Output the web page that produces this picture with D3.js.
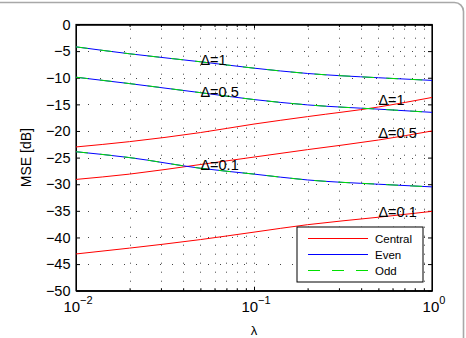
<!DOCTYPE html>
<html>
<head>
<meta charset="utf-8">
<script src="https://cdn.jsdelivr.net/npm/d3@7"></script>
<style>
  body { margin: 0; background: #fff; }
  text { font-family: "Liberation Sans", Arial, sans-serif; fill: #000; }
</style>
</head>
<body>
<div id="chart"></div>
<script>
// lambda sample points
const lambdas = [0.01, 0.02, 0.05, 0.1, 0.2, 0.5, 1];

// Central (red)
const centralD1  = [-23.0, -22.0, -20.3, -18.7, -17.3, -15.5, -13.7];
const centralD05 = [-29.1, -28.1, -26.3, -24.9, -23.5, -21.7, -20.0];
const centralD01 = [-43.1, -42.0, -40.4, -39.0, -37.6, -36.2, -35.1];

// Even (blue)
const evenD1  = [-4.2, -5.5, -7.0, -8.2, -9.2, -10.0, -10.5];
const evenD05 = [-9.9, -11.1, -12.8, -14.1, -15.1, -15.9, -16.5];
const evenD01 = [-23.9, -25.0, -27.0, -28.1, -29.2, -30.0, -30.5];

// Odd (green dashed)
const oddD1  = [-4.2, -5.5, -7.0, -8.2, -9.2, -10.0, -10.5];
const oddD05 = [-9.9, -11.1, -12.8, -14.1, -15.1, -15.9, -16.5];
const oddD01 = [-23.9, -25.0, -27.0, -28.1, -29.2, -30.0, -30.5];

// annotations
const noteText   = ["\u0394=1", "\u0394=0.5", "\u0394=0.1", "\u0394=1", "\u0394=0.5", "\u0394=0.1"];
const noteLambda = [0.05, 0.05, 0.05, 0.5, 0.5, 0.5];
const noteDb     = [-6.7, -12.7, -26.4, -14.2, -20.3, -35.1];

// ticks
const yTicks = [0, -5, -10, -15, -20, -25, -30, -35, -40, -45, -50];
const xMajor = [0.01, 0.1, 1];
const xExp = ["\u22122", "\u22121", "0"];
const xMinor = [0.02, 0.03, 0.04, 0.05, 0.06, 0.07, 0.08, 0.09,
                0.2, 0.3, 0.4, 0.5, 0.6, 0.7, 0.8, 0.9];

const legendNames = ["Central", "Even", "Odd"];

let width = 466;
let height = 338;
let pLeft = 76, pRight = 432, pTop = 24.5, pBottom = 290.7;

let svg = d3.select("#chart").append("svg")
    .attr("width", width)
    .attr("height", height);

// outer rounded frame (cropped on left/bottom)
svg.append("rect")
    .attr("x", -20).attr("y", 2.5)
    .attr("width", 463.5 + 20).attr("height", 360)
    .attr("rx", 9)
    .attr("fill", "none")
    .attr("stroke", "#a8a8a8")
    .attr("stroke-width", 1.6);

let x = d3.scaleLog().domain([0.01, 1]).range([pLeft, pRight]);
let y = d3.scaleLinear().domain([-50, 0]).range([pBottom, pTop]);

// grid
let grid = svg.append("g").attr("stroke", "#444").attr("stroke-width", 1);
grid.selectAll(".hg")
    .data(yTicks.filter(d => d !== 0 && d !== -50))
    .enter().append("line")
    .attr("x1", pLeft).attr("x2", pRight)
    .attr("y1", d => Math.round(y(d)) + 0.5).attr("y2", d => Math.round(y(d)) + 0.5)
    .attr("stroke-dasharray", "1,11");
grid.selectAll(".vg")
    .data(xMinor.concat([0.1]))
    .enter().append("line")
    .attr("y1", pBottom).attr("y2", pTop)
    .attr("x1", d => Math.round(x(d)) + 0.5).attr("x2", d => Math.round(x(d)) + 0.5)
    .attr("stroke-dasharray", "1,8");

// axes (ticks pointing in)
function styleAxis(g) {
    g.selectAll("path").attr("stroke", "#000");
    g.selectAll("line").attr("stroke", "#000");
    g.selectAll("text").remove();
}
svg.append("g").attr("transform", `translate(${pLeft},0)`)
    .call(d3.axisLeft(y).tickValues(yTicks).tickSize(-4).tickSizeOuter(0)).call(styleAxis);
svg.append("g").attr("transform", `translate(${pRight},0)`)
    .call(d3.axisRight(y).tickValues(yTicks).tickSize(-4).tickSizeOuter(0)).call(styleAxis);
svg.append("g").attr("transform", `translate(0,${pBottom})`)
    .call(d3.axisBottom(x).tickValues(xMajor).tickSize(-4).tickSizeOuter(0)).call(styleAxis);
svg.append("g").attr("transform", `translate(0,${pBottom})`)
    .call(d3.axisBottom(x).tickValues(xMinor).tickSize(-2.5).tickSizeOuter(0)).call(styleAxis);
svg.append("g").attr("transform", `translate(0,${pTop})`)
    .call(d3.axisTop(x).tickValues(xMajor).tickSize(-4).tickSizeOuter(0)).call(styleAxis);
svg.append("g").attr("transform", `translate(0,${pTop})`)
    .call(d3.axisTop(x).tickValues(xMinor).tickSize(-2.5).tickSizeOuter(0)).call(styleAxis);

// box
svg.append("rect")
    .attr("x", pLeft).attr("y", pTop)
    .attr("width", pRight - pLeft).attr("height", pBottom - pTop)
    .attr("fill", "none").attr("stroke", "#000").attr("stroke-width", 1.2);

// y tick labels
svg.selectAll(".ylab")
    .data(yTicks)
    .enter().append("text")
    .attr("x", pLeft - 5.5)
    .attr("y", d => y(d))
    .attr("dy", "0.36em")
    .attr("text-anchor", "end")
    .attr("font-size", 14.5)
    .text(d => d === 0 ? "0" : "\u2212" + Math.abs(d));

// x tick labels (10^k)
xMajor.forEach((v, i) => {
    let t = svg.append("text")
        .attr("x", x(v) + 2)
        .attr("y", 312)
        .attr("text-anchor", "middle")
        .attr("font-size", 15);
    t.append("tspan").text("10");
    t.append("tspan").attr("dy", -8).attr("font-size", 11).text(xExp[i]);
});

// axis titles
svg.append("text")
    .attr("transform", `translate(31,${(pTop + pBottom) / 2}) rotate(-90)`)
    .attr("text-anchor", "middle")
    .attr("font-size", 14)
    .text("MSE [dB]");
svg.append("text")
    .attr("x", x(0.1))
    .attr("y", 335)
    .attr("text-anchor", "middle")
    .attr("font-size", 13)
    .text("\u03bb");

// lines
let line = d3.line()
    .x((d, i) => x(lambdas[i]))
    .y(d => y(d))
    .curve(d3.curveMonotoneX);

let plot = svg.append("g");
[centralD1, centralD05, centralD01].forEach(s => {
    plot.append("path").attr("d", line(s))
        .attr("fill", "none").attr("stroke", "#ff0000").attr("stroke-width", 1);
});
[evenD1, evenD05, evenD01].forEach(s => {
    plot.append("path").attr("d", line(s))
        .attr("fill", "none").attr("stroke", "#0000ff").attr("stroke-width", 1);
});
[oddD1, oddD05, oddD01].forEach(s => {
    plot.append("path").attr("d", line(s))
        .attr("fill", "none").attr("stroke", "#00e000").attr("stroke-width", 1)
        .attr("stroke-dasharray", "12,12");
});

// annotations
svg.selectAll(".note")
    .data(noteText)
    .enter().append("text")
    .attr("x", (d, i) => x(noteLambda[i]))
    .attr("y", (d, i) => y(noteDb[i]))
    .attr("dy", "0.36em")
    .attr("font-size", 14.5)
    .text(d => d);

// legend
let lg = svg.append("g");
lg.append("rect")
    .attr("x", 297).attr("y", 227)
    .attr("width", 126).attr("height", 55)
    .attr("fill", "#fff").attr("stroke", "#000").attr("stroke-width", 1);
let legendColors = ["#ff0000", "#0000ff", "#00e000"];
let legendDash = [null, null, "12,12"];
legendNames.forEach((n, i) => {
    let ly = 238.5 + i * 16;
    lg.append("line")
        .attr("x1", 308).attr("x2", 368)
        .attr("y1", ly).attr("y2", ly)
        .attr("stroke", legendColors[i]).attr("stroke-width", 1)
        .attr("stroke-dasharray", legendDash[i]);
    lg.append("text")
        .attr("x", 375).attr("y", ly)
        .attr("dy", "0.36em")
        .attr("font-size", 11.5)
        .text(n);
});
</script>
</body>
</html>
